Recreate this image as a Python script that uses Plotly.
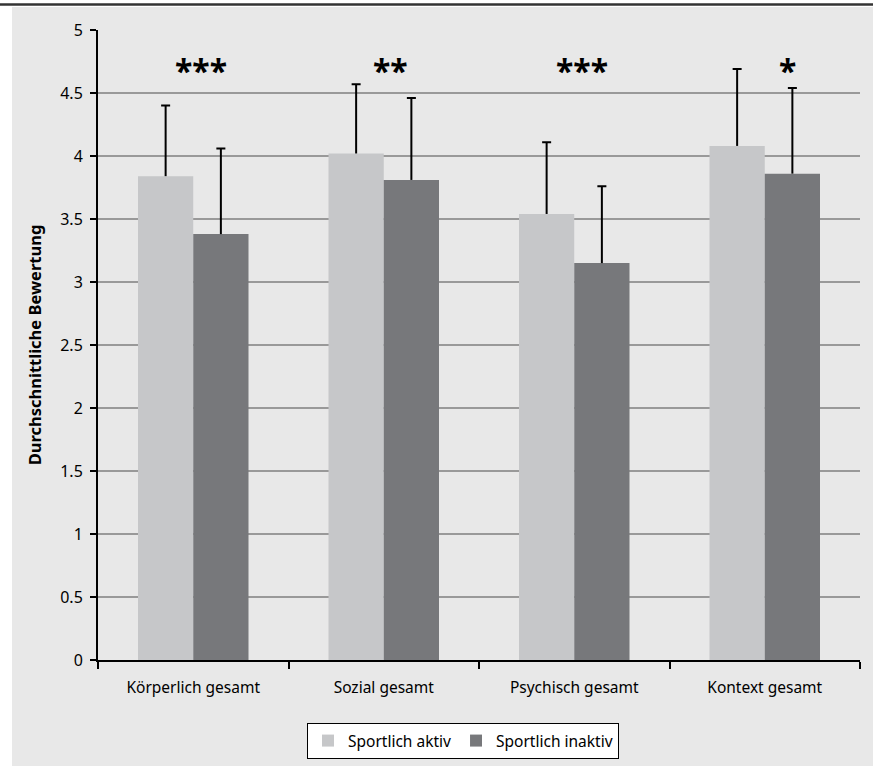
import plotly.graph_objects as go

categories = ["Körperlich gesamt", "Sozial gesamt", "Psychisch gesamt", "Kontext gesamt"]
aktiv_mean = [3.84, 4.02, 3.54, 4.08]
aktiv_sd = [0.56, 0.55, 0.57, 0.61]
inaktiv_mean = [3.38, 3.81, 3.15, 3.86]
inaktiv_sd = [0.68, 0.65, 0.61, 0.68]
stars = ["***", "**", "***", "*"]
star_shift = [8, 7, 8, 23]

FONT = "Noto Sans"
LIGHT = "#c6c7c9"
DARK = "#77787b"
BG = "#e8e8e8"

fig = go.Figure()
for name, mean, sd, col, grp in [("Sportlich aktiv", aktiv_mean, aktiv_sd, LIGHT, "a"),
                                 ("Sportlich inaktiv", inaktiv_mean, inaktiv_sd, DARK, "b")]:
    # visible bar with the error stem (no caps)
    fig.add_trace(go.Bar(
        name=name, x=categories, y=mean, marker_color=col, marker_line_width=0,
        offsetgroup=grp,
        error_y=dict(type="data", symmetric=False, array=sd, arrayminus=[0]*len(sd),
                     color="black", thickness=2, width=0)))
for name, mean, sd, grp in [("Sportlich aktiv", aktiv_mean, aktiv_sd, "a"),
                            ("Sportlich inaktiv", inaktiv_mean, inaktiv_sd, "b")]:
    # transparent bar reaching mean+sd, carrying only the cap
    fig.add_trace(go.Bar(
        name=name, x=categories, y=[m + s for m, s in zip(mean, sd)],
        marker_color="rgba(0,0,0,0)", marker_line_width=0, offsetgroup=grp,
        showlegend=False, hoverinfo="skip",
        error_y=dict(type="data", symmetric=False, array=[0]*len(sd), arrayminus=[0]*len(sd),
                     color="black", thickness=2, width=4.5)))

annotations = []
for c, s, dx in zip(categories, stars, star_shift):
    annotations.append(dict(x=c, y=4.68, xref="x", yref="y", text="<b>" + s + "</b>",
                            showarrow=False, xshift=dx, yanchor="middle",
                            font=dict(family=FONT, size=32, color="black")))

L, R, T, B = 98, 13, 30, 106
W, H = 873, 766
pw = W - L - R
ph = H - T - B
def px2x(px):
    return (px - L) / pw
def py2y(py):
    return (H - B - py) / ph

fig.update_layout(
    width=W, height=H,
    margin=dict(l=L, r=R, t=T, b=B, autoexpand=False),
    paper_bgcolor=BG,
    plot_bgcolor="rgba(0,0,0,0)",
    barmode="group", bargap=0.42, bargroupgap=0,
    font=dict(family=FONT, size=15, color="black"),
    showlegend=True,
    legend=dict(orientation="h", x=px2x(463), xanchor="center", y=py2y(723), yanchor="top",
                bgcolor="white", bordercolor="black", borderwidth=1,
                font=dict(family=FONT, size=15.5), traceorder="normal"),
    annotations=annotations,
    shapes=[
        dict(type="rect", xref="paper", yref="paper", x0=px2x(-5), x1=px2x(12),
             y0=py2y(780), y1=py2y(-5), fillcolor="white", line_width=0, layer="below"),
        dict(type="rect", xref="paper", yref="paper", x0=px2x(-5), x1=px2x(880),
             y0=py2y(7), y1=py2y(-5), fillcolor="white", line_width=0, layer="below"),
        dict(type="line", xref="paper", yref="paper", x0=px2x(-5), x1=px2x(880),
             y0=py2y(4.5), y1=py2y(4.5), line=dict(color="#333333", width=2.5), layer="below"),
    ],
    xaxis=dict(showline=True, linecolor="black", linewidth=2, ticks="outside",
               tickson="boundaries", ticklen=7, tickwidth=1.5, tickcolor="black",
               ticklabelstandoff=12,
               showgrid=False, automargin=False, tickfont=dict(family=FONT, size=15.5)),
    yaxis=dict(range=[0, 5], dtick=0.5, showline=True, linecolor="black", linewidth=2,
               ticks="outside", ticklen=6, tickwidth=1.5, tickcolor="black",
               ticklabelstandoff=4,
               showgrid=True, gridcolor="#999999", gridwidth=2, zeroline=False,
               automargin=False, tickfont=dict(family=FONT, size=16),
               title=dict(text="<b>Durchschnittliche Bewertung</b>",
                          font=dict(family=FONT, size=16.5), standoff=14)),
)

fig.write_html("out.html", config={"displayModeBar": False},
               post_script="document.body.style.margin='0';document.body.style.overflow='hidden';")
